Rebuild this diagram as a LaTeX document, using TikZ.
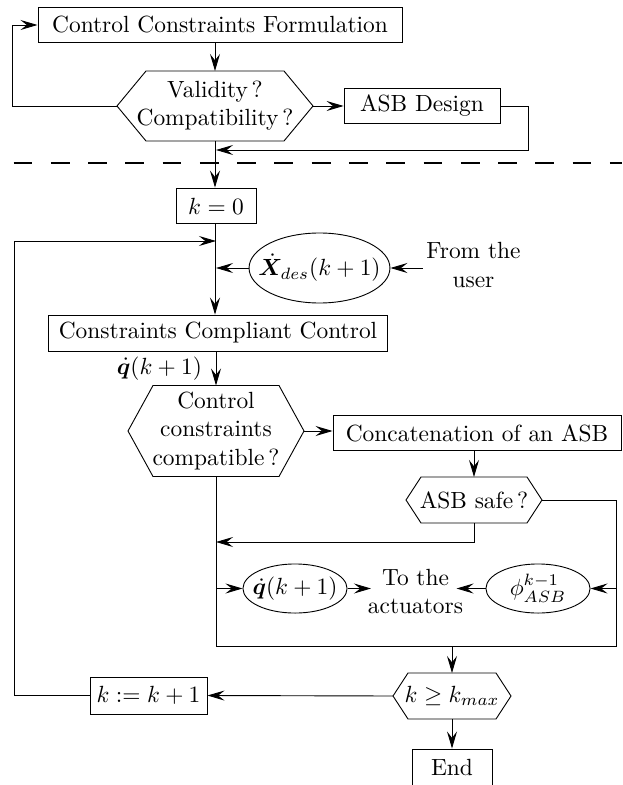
\RequirePackage{fix-cm}
\documentclass[tikz,border=0pt]{standalone}
\usepackage{amsmath,amssymb,bm}
\usetikzlibrary{arrows.meta,calc,shapes.geometric}
\tikzset{
  every node/.style={font=\fontsize{10.3pt}{12.4pt}\selectfont},
  box/.style={draw, rectangle, inner sep=0pt, align=center},
  ell/.style={draw, ellipse, inner sep=0pt},
  hexin/.style={rectangle, inner sep=0pt, align=center},
  arr/.style={-{Stealth[length=7.5pt,width=4.4pt,inset=2.8pt]}},
  sep/.style={line width=1.2pt, dash pattern=on 8.3pt off 8.1pt},
}
% #1 name, #2 half top width, #3 half height, #4 point extension (picture units)
\newcommand\hexagonal[4]{%
  \path (#1.center) ++(-#2-#4,0) coordinate (#1-L) ++(#4,-#3) coordinate (#1-NW)
        ++(2*#2,0) coordinate (#1-NE) ++(#4,#3) coordinate (#1-R)
        ++(-#4,#3) coordinate (#1-SE) ++(-2*#2,0) coordinate (#1-SW);
  \coordinate (#1-N) at ($(#1.center)+(0,-#3)$);
  \coordinate (#1-S) at ($(#1.center)+(0,#3)$);
  \draw (#1-L) -- (#1-NW) -- (#1-NE) -- (#1-R) -- (#1-SE) -- (#1-SW) -- cycle;}
\newcommand\zw[1]{\makebox[0pt]{#1}}
\begin{document}
\begin{tikzpicture}[x=0.44pt,y=-0.44pt]
\useasboundingbox (0,0) rectangle (622,785);
% nodes
\node[box, minimum width=160.2pt, minimum height=15.4pt] (ccf) at (220,25) {Control Constraints Formulation};
\node[hexin] (val) at (215,106) {Validity\,?\\Compatibility\,?};
\hexagonal{val}{69}{35}{29}
\node[box, minimum width=68.6pt, minimum height=15.8pt] (asb) at (422,106) {ASB Design};
\draw[sep] (13.5,163) -- (622,163);
\node[box, minimum width=35.2pt, minimum height=15.8pt] (k0) at (216,206) {$k=0$};
\node[ell, minimum width=62pt, minimum height=30.8pt] (xd) at (319.5,268) {\zw{$\dot{\bm{X}}_{des}(k+1)$}};
\node[align=center, inner sep=1.5pt] (user) at (473.5,265) {From the\\user};
\node[box, minimum width=149.2pt, minimum height=15.8pt] (ccc) at (218,333) {Constraints Compliant Control};
\node[hexin] (ctl) at (216,431) {Control\\constraints\\compatible\,?};
\hexagonal{ctl}{63}{45.5}{25}
\node[box, minimum width=126.7pt, minimum height=15.4pt] (cat) at (477,433) {Concatenation of an ASB};
\node[hexin] (safe) at (474,500) {ASB safe\,?};
\hexagonal{safe}{53}{23}{15}
\node[ell, minimum width=45.8pt, minimum height=21.6pt] (qd) at (295,588.5) {\zw{$\dot{\bm{q}}(k+1)$}};
\node[align=center, inner sep=0pt] (act) at (415.5,591.5) {To the\\actuators};
\node[ell, minimum width=45.8pt, minimum height=21.6pt] (phi) at (538,588.5) {\zw{$\phi^{k-1}_{ASB}$}};
\node[hexin] (kmax) at (452,696) {$k\geq k_{max}$};
\hexagonal{kmax}{44}{23}{15}
\node[box, minimum width=51.5pt, minimum height=16.3pt] (kk) at (148.5,695.5) {$k:=k+1$};
\node[box, minimum width=35.2pt, minimum height=16.3pt] (end) at (452,767.5) {End};
% junction coordinates
\coordinate (in1) at (216,150);
\coordinate (in2) at (216,241);
\coordinate (in3) at (216,268);
\coordinate (j1) at (216,542);
\coordinate (br) at (616,646);
% connectors
\draw[arr] (ccf.south -| val-N) -- (val-N);
\draw[arr] (val-L) -- ++(-105,0) |- (ccf.west);
\draw[arr] (val-R) -- (asb.west);
\draw[arr] (asb.east) -- ++(28,0) |- (in1);
\draw[arr] (val-S) -- (k0.north -| val-S);
\draw[arr] (k0.south -| val-S) -- (ccc.north -| val-S);
\draw[arr] (xd.west) -- (in3);
\draw[arr] (user.west |- xd.east) -- (xd.east);
\draw[arr] (kk.west) -- ++(-75,0) |- (in2);
\draw[arr] (ccc.south -| ctl-N) -- node[left, inner xsep=6pt] {$\dot{\bm{q}}(k+1)$} (ctl-N);
\draw[arr] (ctl-R) -- (ctl-R -| cat.west);
\draw[arr] (cat.south -| safe-N) -- (safe-N);
\draw[arr] (safe-S) |- (j1);
\draw (ctl-S) |- (br) |- (safe-R);
\draw[arr] (qd.west -| ctl-S) -- (qd.west);
\draw[arr] (phi.east -| br) -- (phi.east);
\draw[arr] (qd.east) -- ($(act.west |- qd.east)+(3.5,0)$);
\draw[arr] (phi.west) -- ($(act.east |- phi.west)+(-7,0)$);
\draw[arr] (kmax-N |- br) -- (kmax-N);
\draw[arr] (kmax-L) -- (kk.east);
\draw[arr] (kmax-S) -- (end.north);
\end{tikzpicture}
\end{document}
